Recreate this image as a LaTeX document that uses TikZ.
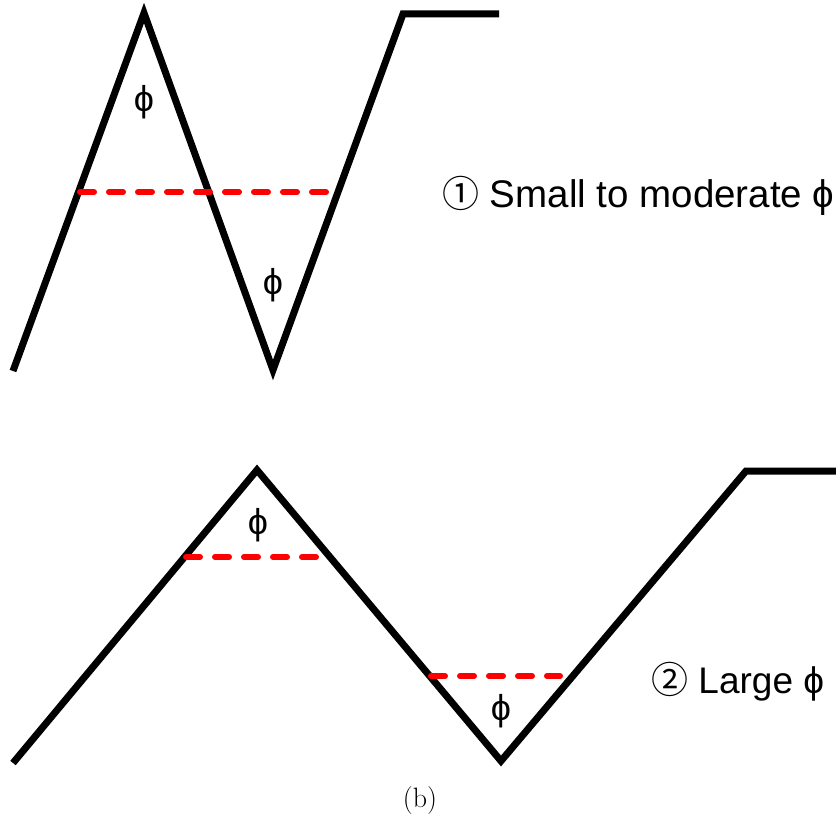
\documentclass[tikz,border=0pt]{standalone}
\usepackage{fontspec}
\newfontfamily\arialf{Liberation Sans}
\newfontfamily\circf{Noto Sans CJK JP}
\begin{document}
\begin{tikzpicture}[x=1pt,y=-1pt,
  zig/.style={line width=7pt,line join=miter,line cap=butt},
  reddash/.style={line width=6pt,red,line cap=round,dash pattern=on 14pt off 15pt},
  philab/.style={font=\arialf\fontsize{36}{38}\selectfont,inner sep=0pt},
  caselab/.style={font=\arialf\fontsize{37}{40}\selectfont,anchor=base west,inner sep=0pt}]
\useasboundingbox (0,0) rectangle (836,816);
% top zigzag
\coordinate (a1) at (13,371);
\coordinate (a2) at (144,13);
\coordinate (a3) at (273,370);
\coordinate (a4) at (403,14);
\coordinate (a5) at (499,14);
\draw[zig] (a1) -- (a2) -- (a3) -- (a4) -- (a5);
\coordinate (r1) at (80,192);
\coordinate (r2) at (327,192);
\draw[reddash] (r1) -- (r2);
\node[philab] (p1) at (144,102) {ϕ};
\node[philab] (p2) at (273,285) {ϕ};
\node[caselab,font=\arialf\fontsize{38.5}{41}\selectfont] (t1) at (442,207) {{\circf\fontsize{37}{40}\selectfont ①} Small to moderate ϕ};
% bottom zigzag
\coordinate (b1) at (13,763);
\coordinate (b2) at (257,470);
\coordinate (b3) at (501,761);
\coordinate (b4) at (746,471);
\coordinate (b5) at (836,471);
\draw[zig] (b1) -- (b2) -- (b3) -- (b4) -- (b5);
\coordinate (s1) at (186,557);
\coordinate (s2) at (317,557);
\draw[reddash] (s1) -- (s2);
\coordinate (s3) at (431,676);
\coordinate (s4) at (560,676);
\draw[reddash] (s3) -- (s4);
\node[philab] (p3) at (258,525) {ϕ};
\node[philab] (p4) at (501,711) {ϕ};
\node[caselab] (t2) at (651,693) {{\circf\fontsize{37}{40}\selectfont ②} Large ϕ};
\node[font=\fontsize{28}{30}\selectfont,inner sep=0pt] (cap) at (420,801) {(b)};
\end{tikzpicture}
\end{document}
